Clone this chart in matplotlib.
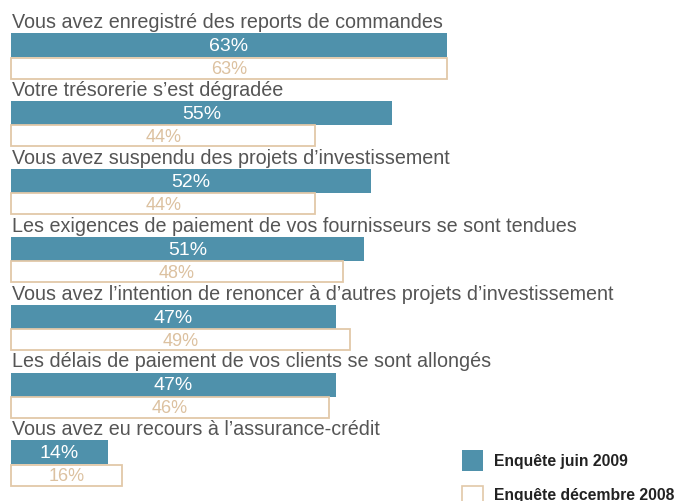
import matplotlib.pyplot as plt
from matplotlib.patches import Rectangle

questions = [
    "Vous avez enregistré des reports de commandes",
    "Votre trésorerie s\u2019est dégradée",
    "Vous avez suspendu des projets d\u2019investissement",
    "Les exigences de paiement de vos fournisseurs se sont tendues",
    "Vous avez l\u2019intention de renoncer à d\u2019autres projets d\u2019investissement",
    "Les délais de paiement de vos clients se sont allongés",
    "Vous avez eu recours à l\u2019assurance-crédit",
]
juin_2009 = [63, 55, 52, 51, 47, 47, 14]
dec_2008 = [63, 44, 44, 48, 49, 46, 16]
legend_labels = ["Enquête juin 2009", "Enquête décembre 2008"]

blue = "#4f91ab"
beige = "#e2c8a8"
beige_txt = "#dcc1a0"
grey = "#555555"

plt.rcParams['font.family'] = ['Liberation Sans', 'DejaVu Sans']

fig = plt.figure(figsize=(6.78, 5.02), dpi=100)
ax = fig.add_axes([0, 0, 1, 1])
px = 6.92  # pixels per percent
ax.set_xlim(-11 / px, (678 - 11) / px)
ax.set_ylim(502, 0)
ax.axis('off')

for i, (q, a, b) in enumerate(zip(questions, juin_2009, dec_2008)):
    top = 34 + i * 67.9
    ax.text(0.1, top - 2, q, color=grey, fontsize=14.2, va='bottom', ha='left')
    ax.barh(top + 12, a, height=24, left=0, color=blue, edgecolor='none')
    ax.text(a / 2, top + 12.5, f"{a}%", color='white', fontsize=14,
            ha='center', va='center')
    ax.barh(top + 35, b, height=21, left=0, color='white', edgecolor=beige,
            linewidth=1.3)
    ax.text(b / 2, top + 35.5, f"{b}%", color=beige_txt, fontsize=13,
            ha='center', va='center')

# legend
lx0 = (462 - 11) / px
lw = 21 / px
ax.add_patch(Rectangle((lx0, 451), lw, 21, facecolor=blue, edgecolor='none'))
ax.add_patch(Rectangle((lx0, 487), lw, 21, facecolor='white', edgecolor=beige,
                       linewidth=1.2))
ax.text((494 - 11) / px, 462, legend_labels[0], fontsize=11.3, fontweight='bold',
        color='#222222', va='center')
ax.text((494 - 11) / px, 496, legend_labels[1], fontsize=11.3, fontweight='bold',
        color='#222222', va='center')

fig.savefig("out.png", dpi=100)
